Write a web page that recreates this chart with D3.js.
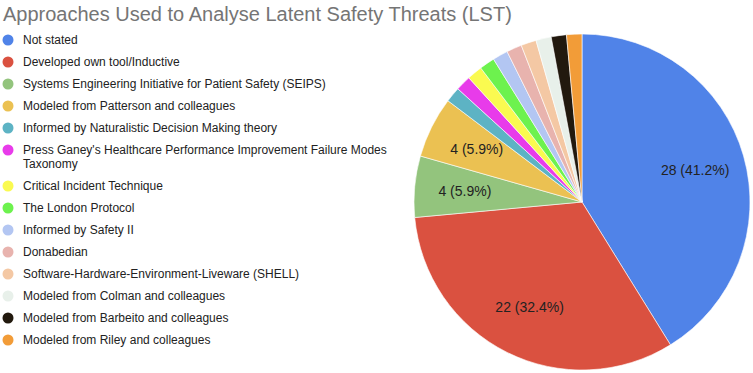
<!DOCTYPE html>
<html><head><meta charset="utf-8">
<script src="https://cdn.jsdelivr.net/npm/d3@7"></script>
<style>
html,body{margin:0;padding:0;background:#fff;}
svg{display:block;font-family:Arial,"Liberation Sans",sans-serif;}
</style></head>
<body>
<svg id="chart" width="753" height="373"></svg>
<script>
const title = "Approaches Used to Analyse Latent Safety Threats (LST)";
const categories = [
  "Not stated",
  "Developed own tool/Inductive",
  "Systems Engineering Initiative for Patient Safety (SEIPS)",
  "Modeled from Patterson and colleagues",
  "Informed by Naturalistic Decision Making theory",
  "Press Ganey's Healthcare Performance Improvement Failure Modes Taxonomy",
  "Critical Incident Technique",
  "The London Protocol",
  "Informed by Safety II",
  "Donabedian",
  "Software-Hardware-Environment-Liveware (SHELL)",
  "Modeled from Colman and colleagues",
  "Modeled from Barbeito and colleagues",
  "Modeled from Riley and colleagues"
];
const values = [28, 22, 4, 4, 1, 1, 1, 1, 1, 1, 1, 1, 1, 1];
const colors = ["#5083E8","#DA5140","#93C47D","#EBC152","#5DB3C4","#E83BEA","#FAFA50",
                "#6DF24E","#B3C6F2","#E8B3AE","#F4C8A4","#E8F0EA","#22190E","#F29C38"];

const svg = d3.select("#chart");

svg.append("text")
  .attr("x", 3).attr("y", 21)
  .attr("font-size", 20).attr("fill", "#757575")
  .text(title);

// Pie
const cx = 582, cy = 202, R = 168;
const total = d3.sum(values);
const data = categories.map((c, i) => ({name: c, value: values[i], color: colors[i]}));
const pie = d3.pie().value(d => d.value).sort(null);
const arcs = pie(data);
const arc = d3.arc().innerRadius(0).outerRadius(R);
const labelArc = d3.arc().innerRadius(R * 0.7).outerRadius(R * 0.7);

const g = svg.append("g").attr("transform", `translate(${cx},${cy})`);
g.selectAll("path.slice").data(arcs).enter().append("path")
  .attr("class", "slice")
  .attr("d", arc)
  .attr("fill", d => d.data.color)
  .attr("stroke", "#fff").attr("stroke-width", 0.6);

const fmt = d3.format(".1f");
g.selectAll("text.lbl").data(arcs.filter(d => d.data.value / total >= 0.05)).enter()
  .append("text").attr("class", "lbl")
  .attr("transform", d => `translate(${labelArc.centroid(d)})`)
  .attr("text-anchor", "middle").attr("dy", "0.35em")
  .attr("font-size", 14).attr("fill", "#222")
  .text(d => `${d.data.value} (${fmt(d.data.value / total * 100)}%)`);

// Legend
const lx = 8, tx = 23, maxW = 372, lineH = 14, step = 22;
let y = 40;
const leg = svg.append("g");
data.forEach(d => {
  const item = leg.append("g");
  item.append("circle").attr("cx", lx).attr("cy", y).attr("r", 5.5).attr("fill", d.color);
  const t = item.append("text").attr("x", tx).attr("font-size", 12).attr("fill", "#222");
  const words = d.name.split(" ");
  let line = [], lines = [];
  let ts = t.append("tspan").attr("x", tx).attr("y", y + 4.3);
  words.forEach(w => {
    line.push(w);
    ts.text(line.join(" "));
    if (ts.node().getComputedTextLength() > maxW && line.length > 1) {
      line.pop();
      ts.text(line.join(" "));
      lines.push(ts);
      line = [w];
      ts = t.append("tspan").attr("x", tx).attr("y", y + 4.3 + lines.length * lineH).text(w);
    }
  });
  y += lines.length * lineH + step;
});
</script>
</body></html>
